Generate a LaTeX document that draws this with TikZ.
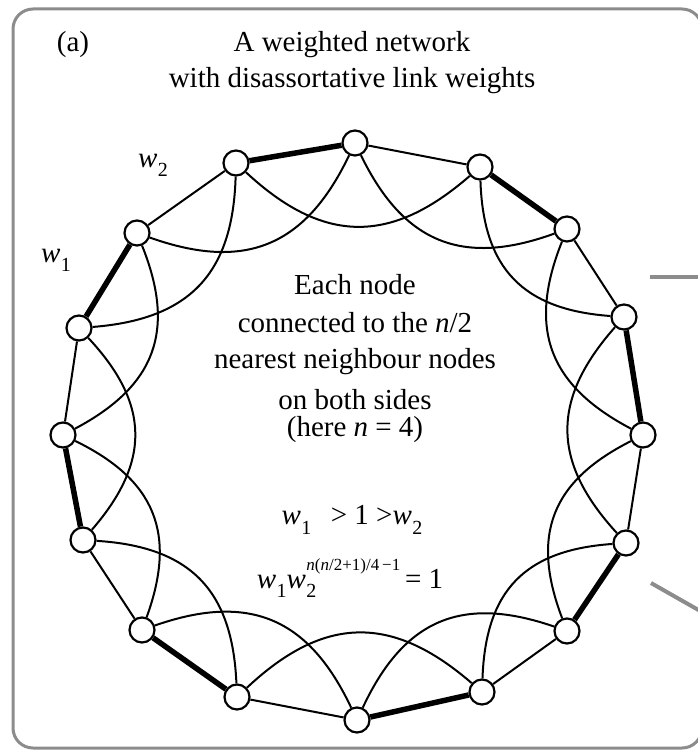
\documentclass[tikz,border=0pt]{standalone}
\usepackage{fontspec}
\setmainfont{Liberation Serif}
\usetikzlibrary{backgrounds}
\newcommand\wsub[1]{\textit{w}\kern0.5pt\raisebox{-0.32em}{\fontsize{20}{20}\selectfont #1}}
\begin{document}
\begin{tikzpicture}[x=1pt,y=-1pt,
  vtx/.style={circle, draw, fill=white, line width=2.2pt, minimum size=25pt, inner sep=0pt},
  lnk/.style={line width=2pt},
  heavy/.style={line width=5.5pt},
  arcb/.style={line width=2pt, bend left=42, looseness=1.2},
  frm/.style={draw=black!45, line width=3pt, rounded corners=20pt},
  side/.style={draw=black!45, line width=4pt},
  lbl/.style={font=\fontsize{29}{34}\selectfont, inner sep=0pt, align=center}]
\useasboundingbox (0,0) rectangle (698,752);
% vertices
\foreach \i/\x/\y in {0/355/143, 1/236/163, 2/137/233, 3/79/328, 4/63/435, 5/83/540,
  6/142/630, 7/237/697, 8/357/720, 9/482/692, 10/567/631, 11/626/543, 12/643/435,
  13/624/317, 14/567/229, 15/480/167}
  \node[vtx] (v\i) at (\x,\y) {};
\begin{scope}[on background layer]
  \node[frm, minimum width=689pt, minimum height=739pt, inner sep=0pt] (frame) at (357.5,378.5) {};
  \foreach \i in {0,2,...,14}{
    \pgfmathtruncatemacro\j{mod(\i+1,16)}
    \draw[heavy] (v\i) -- (v\j);
  }
  \foreach \i in {1,3,...,15}{
    \pgfmathtruncatemacro\j{mod(\i+1,16)}
    \draw[lnk] (v\i) -- (v\j);
  }
  \foreach \i in {0,...,15}{
    \pgfmathtruncatemacro\k{mod(\i+2,16)}
    \draw[arcb] (v\i) to (v\k);
  }
\end{scope}
% partial grey connectors leaving the panel
\coordinate (g1a) at (650,277);
\coordinate (g1b) at (702,277);
\coordinate (g2a) at (651,583);
\coordinate (g2b) at (702,612);
\draw[side] (g1a) -- (g1b);
\draw[side] (g2a) -- (g2b);
% texts
\node[lbl] (tag) at (73,45) {(a)};
\node[lbl] (title) at (352,63) {A weighted network\\[2pt]with disassortative link weights};
\node[lbl] (lw2) at (153,165) {\wsub{2}};
\node[lbl] (lw1) at (56,260) {\wsub{1}};
\node[lbl] (t1) at (355,285) {Each node};
\node[lbl] (t2) at (355,323) {connected to the \textit{n}/2};
\node[lbl] (t3) at (355,362) {nearest neighbour nodes};
\node[lbl] (t4) at (355,400) {on both sides};
\node[lbl] (t5) at (355,430) {(here \textit{n} = 4)};
\node[lbl] (e1) at (352,520) {\wsub{1}~~\,{>} 1 {>}\wsub{2}};
\node[lbl] (e2) at (350,578) {\wsub{1}\textit{w}\kern0.5pt\rlap{\raisebox{-0.32em}{\fontsize{20}{20}\selectfont 2}}\raisebox{0.62em}{\fontsize{17}{17}\selectfont\textit{n}(\textit{n}/2+1)/4\,−1}\,= 1};
\end{tikzpicture}
\end{document}
